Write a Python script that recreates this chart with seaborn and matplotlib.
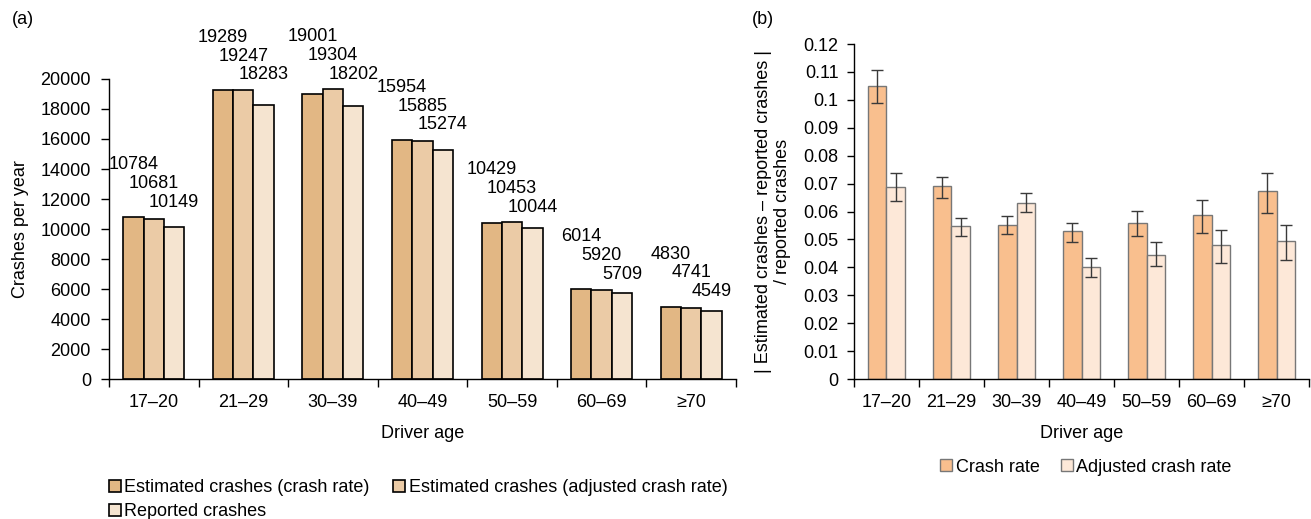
import pandas as pd
import matplotlib.pyplot as plt
import seaborn as sns
from matplotlib.patches import Patch
from matplotlib.ticker import FixedLocator, FuncFormatter

## 数据

age_groups = ['17–20', '21–29', '30–39', '40–49', '50–59', '60–69', '≥70']

# (a) 每年事故数
est_crash_rate = [10784, 19289, 19001, 15954, 10429, 6014, 4830]
est_adjusted = [10681, 19247, 19304, 15885, 10453, 5920, 4741]
reported = [10149, 18283, 18202, 15274, 10044, 5709, 4549]
series_a = ['Estimated crashes (crash rate)',
            'Estimated crashes (adjusted crash rate)',
            'Reported crashes']

# (b) 相对误差及区间
crash_rate = [0.105, 0.069, 0.055, 0.053, 0.056, 0.0587, 0.0673]
crash_rate_lo = [0.0989, 0.0649, 0.052, 0.0491, 0.0514, 0.0523, 0.0594]
crash_rate_hi = [0.1107, 0.0723, 0.0584, 0.0559, 0.0602, 0.0642, 0.0739]
adj_rate = [0.0689, 0.0547, 0.0631, 0.0402, 0.0445, 0.0481, 0.0493]
adj_rate_lo = [0.0637, 0.0511, 0.0598, 0.0365, 0.0405, 0.0414, 0.0425]
adj_rate_hi = [0.0737, 0.0577, 0.0665, 0.0432, 0.049, 0.0535, 0.0552]
series_b = ['Crash rate', 'Adjusted crash rate']

colors_a = ['#E2B784', '#EBCBA6', '#F5E4D0']
colors_b = ['#F9BF8E', '#FDE8D8']

sns.set_style('white')
plt.rcParams['font.family'] = ['Liberation Sans', 'DejaVu Sans']
plt.rcParams['font.size'] = 13
for key in ['text.color', 'axes.labelcolor', 'xtick.color', 'ytick.color']:
    plt.rcParams[key] = 'black'

df_a = pd.DataFrame({
    'age': age_groups * 3,
    'value': est_crash_rate + est_adjusted + reported,
    'series': [s for s in series_a for _ in age_groups],
})
df_b = pd.DataFrame({
    'age': age_groups * 2,
    'value': crash_rate + adj_rate,
    'series': [s for s in series_b for _ in age_groups],
})

fig = plt.figure(figsize=(13.11, 5.19), dpi=100)
ax1 = fig.add_axes([0.0831, 0.2697, 0.4783, 0.5781])
ax2 = fig.add_axes([0.6514, 0.2697, 0.3471, 0.6455])


def style_xaxis(ax):
    ax.set_xlim(-0.5, len(age_groups) - 0.5)
    ax.xaxis.set_minor_locator(FixedLocator([i - 0.5 for i in range(len(age_groups) + 1)]))
    ax.tick_params(axis='x', which='major', length=0, pad=11)
    ax.tick_params(axis='x', which='minor', length=6, width=1, direction='out',
                   color='black', bottom=True)
    ax.set_xlabel('Driver age', labelpad=10)
    for s in ['top', 'right']:
        ax.spines[s].set_visible(False)
    for s in ['left', 'bottom']:
        ax.spines[s].set_color('black')
        ax.spines[s].set_linewidth(1)


## (a)

sns.barplot(data=df_a, x='age', y='value', hue='series', order=age_groups,
            hue_order=series_a, palette=colors_a, saturation=1, width=0.68,
            edgecolor='black', linewidth=1.2, legend=False, ax=ax1)
style_xaxis(ax1)
ax1.set_ylim(0, 20000)
ax1.set_yticks(range(0, 20001, 2000))
ax1.tick_params(axis='y', length=6, width=1, direction='out', color='black',
                left=True, pad=7)
ax1.set_ylabel('Crashes per year')
ax1.yaxis.set_label_coords(-0.128, 0.5)

# 阶梯式数值标签
group_max = [max(v) for v in zip(est_crash_rate, est_adjusted, reported)]
for i, cont in enumerate(ax1.containers):
    for j, bar in enumerate(cont):
        ax1.text(bar.get_x() + bar.get_width() / 2,
                 group_max[j] + 3500 - i * 1260,
                 f'{int(bar.get_height())}', ha='center', va='center')

handles_a = [Patch(facecolor=c, edgecolor='black', linewidth=1.2) for c in colors_a]
order = [0, 2, 1]
fig.legend([handles_a[k] for k in order], [series_a[k] for k in order],
           loc='upper left', bbox_to_anchor=(100 / 1311, 1 - 470 / 519),
           ncol=2, frameon=False, borderpad=0, handlelength=0.65,
           handleheight=0.65, handletextpad=0.2, columnspacing=1.3,
           labelspacing=0.4)

fig.text(12 / 1311, 1 - 20 / 519, '(a)', ha='left', va='center')

## (b)

sns.barplot(data=df_b, x='age', y='value', hue='series', order=age_groups,
            hue_order=series_b, palette=colors_b, saturation=1, width=0.57,
            edgecolor='#777777', linewidth=1, legend=False, ax=ax2)
style_xaxis(ax2)
ax2.set_ylim(0, 0.12)
ax2.set_yticks([k / 100 for k in range(13)])
ax2.yaxis.set_major_formatter(FuncFormatter(lambda v, p: f'{round(v, 2):g}'))
ax2.tick_params(axis='y', length=5, width=1, direction='out', color='black',
                left=True, pad=6)
ax2.set_ylabel('| Estimated crashes – reported crashes |\n/ reported crashes',
               linespacing=1.2)
ax2.yaxis.set_label_coords(-0.138, 0.5)

for cont, vals, lo, hi in [(ax2.containers[0], crash_rate, crash_rate_lo, crash_rate_hi),
                           (ax2.containers[1], adj_rate, adj_rate_lo, adj_rate_hi)]:
    xs = [b.get_x() + b.get_width() / 2 for b in cont]
    ax2.errorbar(xs, vals,
                 yerr=[[v - l for v, l in zip(vals, lo)], [h - v for v, h in zip(vals, hi)]],
                 fmt='none', ecolor='#3A3A3A', elinewidth=1, capsize=4, capthick=1)

handles_b = [Patch(facecolor=c, edgecolor='#777777', linewidth=1) for c in colors_b]
fig.legend(handles_b, series_b, loc='center',
           bbox_to_anchor=(1086 / 1311, 1 - 467 / 519), ncol=2, frameon=False,
           borderpad=0, handlelength=0.65, handleheight=0.65,
           handletextpad=0.2, columnspacing=1.2)

fig.text(752 / 1311, 1 - 20 / 519, '(b)', ha='left', va='center')

fig.savefig('out.png', dpi=100)
